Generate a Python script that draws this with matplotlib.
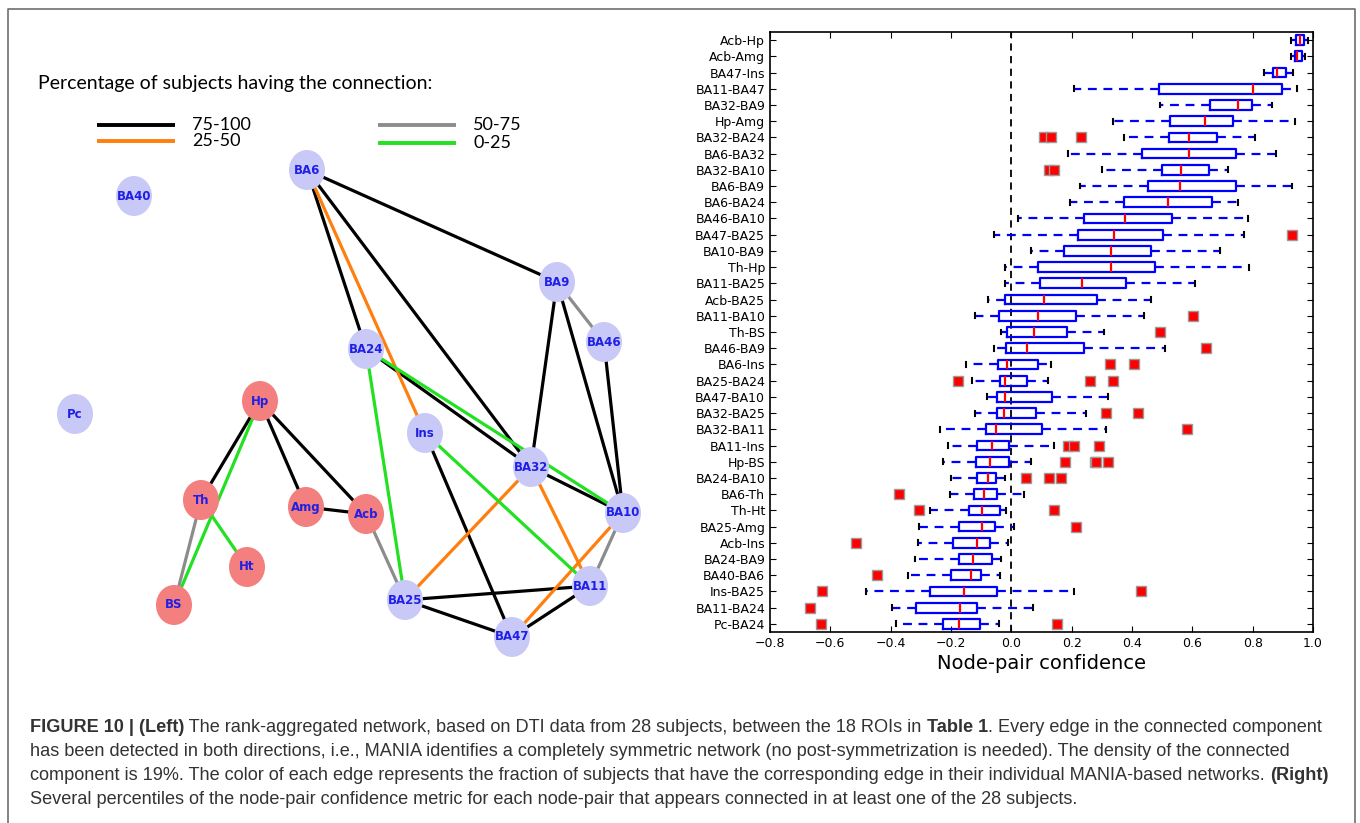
import matplotlib
matplotlib.use("Agg")
import matplotlib.pyplot as plt
from matplotlib.patches import Ellipse
import numpy as np

# ---- right panel: node-pair confidence percentiles (top row first) ----
pairs = ["Acb-Hp", "Acb-Amg", "BA47-Ins", "BA11-BA47", "BA32-BA9", "Hp-Amg",
         "BA32-BA24", "BA6-BA32", "BA32-BA10", "BA6-BA9", "BA6-BA24", "BA46-BA10",
         "BA47-BA25", "BA10-BA9", "Th-Hp", "BA11-BA25", "Acb-BA25", "BA11-BA10",
         "Th-BS", "BA46-BA9", "BA6-Ins", "BA25-BA24", "BA47-BA10", "BA32-BA25",
         "BA32-BA11", "BA11-Ins", "Hp-BS", "BA24-BA10", "BA6-Th", "Th-Ht",
         "BA25-Amg", "Acb-Ins", "BA24-BA9", "BA40-BA6", "Ins-BA25", "BA11-BA24",
         "Pc-BA24"]
whis_lo = [0.926, 0.926, 0.839, 0.208, 0.492, 0.337, 0.372, 0.188, 0.299, 0.228,
           0.194, 0.023, -0.056, 0.064, -0.022, -0.022, -0.079, -0.120, -0.034,
           -0.059, -0.150, -0.130, -0.082, -0.120, -0.235, -0.210, -0.225, -0.201,
           -0.202, -0.270, -0.307, -0.311, -0.318, -0.343, -0.482, -0.397, -0.381]
q1 = [0.945, 0.939, 0.869, 0.490, 0.658, 0.526, 0.522, 0.432, 0.498, 0.453,
      0.374, 0.242, 0.221, 0.175, 0.089, 0.094, -0.022, -0.042, -0.015,
      -0.018, -0.045, -0.038, -0.049, -0.049, -0.083, -0.115, -0.116, -0.115,
      -0.123, -0.141, -0.172, -0.194, -0.175, -0.199, -0.269, -0.315, -0.225]
med = [0.956, 0.948, 0.880, 0.800, 0.750, 0.642, 0.590, 0.589, 0.564, 0.560,
       0.519, 0.376, 0.341, 0.330, 0.330, 0.235, 0.108, 0.087, 0.074,
       0.053, -0.015, -0.020, -0.022, -0.025, -0.052, -0.063, -0.071, -0.078,
       -0.092, -0.097, -0.098, -0.113, -0.126, -0.135, -0.156, -0.169, -0.172]
q3 = [0.970, 0.962, 0.912, 0.896, 0.798, 0.735, 0.681, 0.746, 0.654, 0.744,
      0.665, 0.531, 0.504, 0.464, 0.477, 0.380, 0.283, 0.214, 0.184,
      0.240, 0.089, 0.053, 0.135, 0.082, 0.102, -0.008, -0.008, -0.051,
      -0.049, -0.037, -0.053, -0.071, -0.063, -0.100, -0.048, -0.115, -0.105]
whis_hi = [0.982, 0.975, 0.934, 0.948, 0.863, 0.941, 0.809, 0.877, 0.717, 0.931,
           0.751, 0.785, 0.772, 0.692, 0.788, 0.609, 0.462, 0.440, 0.306,
           0.511, 0.132, 0.122, 0.320, 0.246, 0.313, 0.143, 0.064, -0.020,
           0.041, -0.018, 0.010, -0.011, -0.034, -0.038, 0.208, 0.071, -0.041]
outliers = [[], [], [], [], [], [], [0.109, 0.132, 0.232], [], [0.126, 0.142], [],
            [], [], [0.931], [], [], [], [], [0.602], [0.492],
            [0.646], [0.326, 0.408], [-0.178, 0.262, 0.337], [], [0.314, 0.421],
            [0.583], [0.188, 0.208, 0.290], [0.178, 0.276, 0.280, 0.322],
            [0.048, 0.126, 0.163], [-0.373], [-0.305, 0.142], [0.213], [-0.516],
            [], [-0.444], [-0.626, 0.429], [-0.669], [-0.630, 0.150]]
x_ticks = [-0.8, -0.6, -0.4, -0.2, 0.0, 0.2, 0.4, 0.6, 0.8, 1.0]

# ---- left panel: rank-aggregated network (positions in figure pixels) ----
node_pos = {
    "BA6": (307, 170), "BA40": (134, 196), "BA9": (557, 282), "BA46": (604, 342),
    "BA24": (366, 349), "Pc": (75, 414), "Hp": (260, 401), "Ins": (425, 433),
    "BA32": (531, 467), "Th": (201, 500), "Amg": (306, 507), "Acb": (366, 514),
    "BA10": (623, 513), "Ht": (247, 567), "BS": (174, 605), "BA25": (405, 600),
    "BA11": (590, 586), "BA47": (512, 637),
}
subcortical = ["Hp", "Th", "Amg", "Acb", "Ht", "BS"]
edges_75_100 = [("BA6", "BA9"), ("BA6", "BA24"), ("BA6", "BA32"), ("BA9", "BA32"),
                ("BA9", "BA10"), ("BA46", "BA10"), ("BA24", "BA32"), ("BA32", "BA10"),
                ("Ins", "BA47"), ("BA25", "BA11"), ("BA25", "BA47"), ("BA11", "BA47"),
                ("Hp", "Th"), ("Hp", "Amg"), ("Hp", "Acb"), ("Amg", "Acb")]
edges_50_75 = [("BA9", "BA46"), ("Th", "BS"), ("Acb", "BA25"), ("BA10", "BA11")]
edges_25_50 = [("BA6", "Ins"), ("BA32", "BA25"), ("BA32", "BA11"), ("BA10", "BA47")]
edges_0_25 = [("BA24", "BA25"), ("BA24", "BA10"), ("Ins", "BA11"), ("Hp", "BS"),
              ("Th", "Ht")]
edge_groups = [("75-100", "black", edges_75_100), ("50-75", "#8c8c8c", edges_50_75),
               ("25-50", "#ff7f0e", edges_25_50), ("0-25", "#22e022", edges_0_25)]

caption = [
    [("FIGURE 10 | (Left)", True),
     (" The rank-aggregated network, based on DTI data from 28 subjects, between the 18 ROIs in ", False),
     ("Table 1", True), (". Every edge in the connected component", False)],
    [("has been detected in both directions, i.e., MANIA identifies a completely symmetric "
      "network (no post-symmetrization is needed). The density of the connected", False)],
    [("component is 19%. The color of each edge represents the fraction of subjects that have "
      "the corresponding edge in their individual MANIA-based networks. ", False), ("(Right)", True)],
    [("Several percentiles of the node-pair confidence metric for each node-pair that appears "
      "connected in at least one of the 28 subjects.", False)],
]

W, H = 1360, 823
fig = plt.figure(figsize=(W / 100, H / 100), dpi=100)

# background axes in pixel coordinates for the network, frame and caption
bg = fig.add_axes([0, 0, 1, 1])
bg.set_xlim(0, W)
bg.set_ylim(H, 0)
bg.axis("off")

# frame
bg.plot([8, 8, 1355, 1355], [H, 9, 9, H], color="#6e6e6e", lw=1.2)

# legend
bg.text(38, 83, "Percentage of subjects having the connection:", fontsize=14,
        family="Lato", va="center", ha="left")
leg_xy = [(97, 125), (378, 125), (97, 141), (378, 143)]
for (name, col, _), (lx, ly) in zip(edge_groups, leg_xy):
    bg.plot([lx, lx + 78], [ly, ly], color=col, lw=2.8, solid_capstyle="butt")
    bg.text(lx + 95, ly, name, fontsize=13, family="Lato", va="center")

# edges
for name, col, edges in edge_groups:
    for a, b in edges:
        (xa, ya), (xb, yb) = node_pos[a], node_pos[b]
        bg.plot([xa, xb], [ya, yb], color=col, lw=2.3, zorder=2)

# nodes
for n, (x, y) in node_pos.items():
    fc = "#f47f7f" if n in subcortical else "#c9c9f7"
    bg.add_patch(Ellipse((x, y), 36, 40, facecolor=fc, edgecolor="none", zorder=3))
    bg.text(x, y, n, color="#1f1fe6", fontsize=8.5, fontweight="bold",
            ha="center", va="center", zorder=4)

# caption with bold segments
renderer = fig.canvas.get_renderer()
for i, line in enumerate(caption):
    x = 30
    y = 725 + 24 * i
    for txt, bold in line:
        t = bg.text(x, y, txt, fontsize=13.05, family="Liberation Sans",
                    fontweight="bold" if bold else "normal", color="#333333",
                    ha="left", va="center_baseline")
        bb = t.get_window_extent(renderer)
        x += bb.width

# boxplot panel
ax = fig.add_axes([770 / W, 1 - 632 / H, 543 / W, 600 / H])
n = len(pairs)
positions = list(range(n, 0, -1))
stats = []
for i in range(n):
    stats.append(dict(whislo=whis_lo[i], q1=q1[i], med=med[i], q3=q3[i],
                      whishi=whis_hi[i], fliers=outliers[i], label=pairs[i]))
ax.axvline(0, color="black", ls=(0, (4, 3)), lw=1.3, zorder=0)
ax.bxp(stats, positions=positions, orientation="horizontal", widths=0.6, capwidths=0.3,
       boxprops=dict(color="blue", lw=1.6),
       whiskerprops=dict(color="blue", ls=(0, (4, 3)), lw=1.6),
       capprops=dict(color="black", lw=1.5),
       medianprops=dict(color="red", lw=1.6),
       flierprops=dict(marker="s", markerfacecolor="red", markeredgecolor="#9a9a9a",
                       markersize=6.5, linestyle="none"))
ax.set_xlim(-0.8, 1.0)
ax.set_ylim(0.5, n + 0.5)
ax.set_xticks(x_ticks)
ax.set_xticklabels([f"{v:.1f}".replace("-", "\u2212") for v in x_ticks])
ax.tick_params(direction="in", top=True, right=True, length=4, labelsize=9)
ax.set_xlabel("Node-pair confidence", fontsize=14, labelpad=3)
for s in ax.spines.values():
    s.set_linewidth(1.2)

fig.savefig("out.png", dpi=100)
